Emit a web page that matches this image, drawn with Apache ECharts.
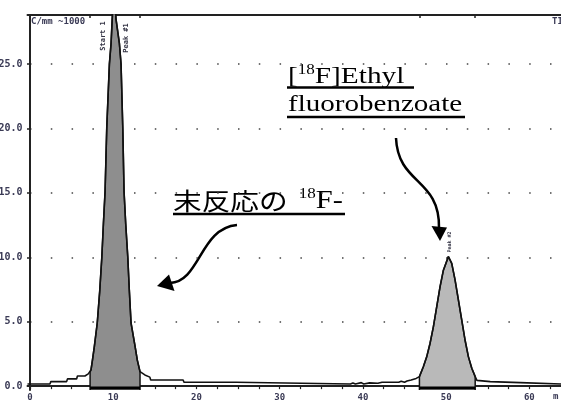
<!DOCTYPE html>
<html><head><meta charset="utf-8">
<script src="https://cdn.jsdelivr.net/npm/echarts@6/dist/echarts.min.js"></script>
<style>html,body{margin:0;padding:0;background:#fff}#c{width:561px;height:401px}</style>
</head><body><div id="c"></div>
<script>
// chromatogram trace (minutes, signal x1000)
const timeMin = [-0.3,2.4,2.5,4.4,4.5,5.6,5.7,6.6,7.0,7.22,
  7.33,7.5,7.73,8.08,8.38,8.63,8.82,9.02,9.22,9.54,9.74,9.88,10.08,10.33,10.74,10.94,11.15,11.3,11.5,11.75,11.93,12.14,12.63,12.9,13.22,
  13.8,14.4,14.5,18.4,18.5,24.75,24.85,38.5,38.8,39.1,39.8,40.1,40.8,41.8,42.3,44.3,44.6,45.0,45.3,45.8,46.4,
  46.79,47.26,47.67,48.07,48.47,48.87,49.27,49.67,50.27,50.67,51.07,51.47,51.87,52.27,52.67,53.08,53.49,
  53.7,53.8,55.3,55.4,58.9,59.0,63.8];
const signal = [0.17,0.17,0.35,0.35,0.56,0.56,0.79,0.79,0.95,1.10,
  1.26,2.0,3.07,4.9,7.4,10.0,12.6,15.1,20.0,25.0,26.6,28.5,31.0,28.5,26.6,25.0,20.0,15.1,12.6,10.0,7.5,4.9,3.07,2.0,1.12,
  0.87,0.7,0.48,0.48,0.3,0.3,0.17,0.17,0.25,0.17,0.27,0.17,0.25,0.22,0.3,0.3,0.38,0.3,0.4,0.48,0.6,
  0.74,1.51,2.29,3.33,4.62,6.17,7.72,9.0,10.05,9.53,8.24,6.69,5.14,3.58,2.29,1.39,0.74,
  0.45,0.35,0.35,0.27,0.27,0.17,0.17];
const peak1Range = [7.22, 13.22];
const peak2Range = [46.79, 53.49];
const yTickValues = [0, 5, 10, 15, 20, 25];
const xLabelValues = [0, 10, 20, 30, 40, 50, 60];
const xMinorTicks = [0,2.5,5,7.5,10,12.5,15,17.5,20,22.5,25,27.5,30,32.5,35,37.5,40,42.5,45,47.5,50,52.5,55,57.5,60,62.5];

const trace = timeMin.map((t, i) => [t, signal[i]]);
function peakArea(r) {
  const pts = trace.filter(p => p[0] >= r[0] - 1e-9 && p[0] <= r[1] + 1e-9);
  return [[r[0], -0.3]].concat(pts, [[r[1], -0.3]]);
}
const lblColor = '#3a3a55';
const monoLbl = {fontFamily: 'DejaVu Sans Mono', fontWeight: 'bold', fontSize: 9, color: lblColor};

const chart = echarts.init(document.getElementById('c'), null, {renderer: 'canvas'});
chart.setOption({
  backgroundColor: '#fff',
  animation: false,
  grid: {left: 27.5, right: 0, top: 15, bottom: 11, containLabel: false, outerBoundsMode: 'none'},
  xAxis: [{
    type: 'value', min: -0.3, max: 63.8, position: 'bottom',
    axisLine: {show: true, lineStyle: {color: '#222', width: 2}},
    axisTick: {show: true, customValues: xMinorTicks, length: 3, lineStyle: {color: '#222', width: 1.2}},
    axisLabel: Object.assign({customValues: xLabelValues, margin: 3, formatter: v => String(Math.round(v))}, monoLbl),
    splitLine: {show: false}
  }, {
    type: 'value', min: -0.3, max: 63.8, position: 'top',
    axisLine: {show: true, lineStyle: {color: '#222', width: 2}},
    axisTick: {show: true, inside: true, customValues: [peak1Range[0], peak1Range[1], peak2Range[0], peak2Range[1]], length: 3, lineStyle: {color: '#222', width: 1.5}},
    axisLabel: {show: false},
    splitLine: {show: false}
  }],
  yAxis: {
    type: 'value', min: -0.3, max: 28.8,
    axisLine: {show: true, lineStyle: {color: '#222', width: 2}},
    axisTick: {show: true, customValues: yTickValues, length: 3, lineStyle: {color: '#222', width: 1.5}},
    axisLabel: Object.assign({customValues: yTickValues, margin: 5, formatter: v => v.toFixed(1)}, monoLbl, {fontSize: 10}),
    splitLine: {show: true, lineStyle: {color: '#444', width: 1.5, type: [1.5, 19.3], dashOffset: 18.3}}
  },
  series: [
    {type: 'line', xAxisIndex: 0, data: peakArea(peak1Range), symbol: 'none', lineStyle: {color: '#111', width: 1.5},
     areaStyle: {color: '#8e8e8e', opacity: 1, origin: 'start'}, z: 2},
    {type: 'line', xAxisIndex: 0, data: peakArea(peak2Range), symbol: 'none', lineStyle: {color: '#111', width: 1.5},
     areaStyle: {color: '#b9b9b9', opacity: 1, origin: 'start'}, z: 2},
    {type: 'line', xAxisIndex: 0, data: trace, symbol: 'none', lineStyle: {color: '#111', width: 1.6}, z: 3},
    {type: 'line', xAxisIndex: 0, data: [[peak1Range[0], -0.15], [peak1Range[1], -0.15]], symbol: 'none', lineStyle: {color: '#000', width: 3}, z: 4},
    {type: 'line', xAxisIndex: 0, data: [[peak2Range[0], -0.15], [peak2Range[1], -0.15]], symbol: 'none', lineStyle: {color: '#000', width: 3}, z: 4}
  ],
  graphic: [
    {type: 'text', x: 31, y: 22, style: {text: 'C/mm ~1000', fill: lblColor, font: 'bold 9px "DejaVu Sans Mono"', verticalAlign: 'middle'}},
    {type: 'text', x: 552, y: 22, style: {text: 'TI', fill: lblColor, font: 'bold 9px "DejaVu Sans Mono"', verticalAlign: 'middle'}},
    {type: 'text', x: 553, y: 397, style: {text: 'm', fill: lblColor, font: 'bold 9px "DejaVu Sans Mono"', verticalAlign: 'middle'}},
    {type: 'text', x: 103, y: 36, rotation: Math.PI / 2, style: {text: 'Start 1', fill: '#334', font: 'bold 7px "DejaVu Sans Mono"', align: 'center', verticalAlign: 'middle'}},
    {type: 'text', x: 126, y: 38, rotation: Math.PI / 2, style: {text: 'Peak #1', fill: '#334', font: 'bold 7px "DejaVu Sans Mono"', align: 'center', verticalAlign: 'middle'}},
    {type: 'text', x: 450, y: 242, rotation: Math.PI / 2, style: {text: 'Peak #2', fill: '#334', font: 'bold 5px "DejaVu Sans Mono"', align: 'center', verticalAlign: 'middle'}},
    // annotation 1
    {type: 'text', x: 173, y: 201, scaleX: 1.22, style: {
      text: '{j|末反応の}{s|18}{f|F-}', verticalAlign: 'middle',
      rich: {
        j: {fontFamily: 'Noto Sans CJK JP', fontSize: 23.5, fill: '#000', lineHeight: 28},
        s: {fontFamily: 'Liberation Serif', fontSize: 14, fill: '#000', lineHeight: 28, verticalAlign: 'top', padding: [0, 0, 0, 9]},
        f: {fontFamily: 'Liberation Serif', fontSize: 25, fill: '#000', lineHeight: 28}
      }}},
    {type: 'line', shape: {x1: 173, y1: 214, x2: 345, y2: 214}, style: {stroke: '#000', lineWidth: 2.5}},
    // annotation 2
    {type: 'text', x: 288, y: 77, scaleX: 1.22, style: {
      text: '{b|[}{s|18}{b|F]Ethyl}', verticalAlign: 'middle',
      rich: {
        b: {fontFamily: 'Liberation Serif', fontSize: 24, fill: '#000', lineHeight: 28},
        s: {fontFamily: 'Liberation Serif', fontSize: 14, fill: '#000', lineHeight: 28, verticalAlign: 'top'}
      }}},
    {type: 'text', x: 288, y: 105, scaleX: 1.21, style: {text: 'fluorobenzoate', font: '24px "Liberation Serif"', fill: '#000', verticalAlign: 'middle'}},
    {type: 'line', shape: {x1: 287, y1: 87.5, x2: 414, y2: 87.5}, style: {stroke: '#000', lineWidth: 2.5}},
    {type: 'line', shape: {x1: 287, y1: 117, x2: 465, y2: 117}, style: {stroke: '#000', lineWidth: 2.5}},
    // arrows
    {type: 'bezierCurve', shape: {x1: 237, y1: 225, cpx1: 200, cpy1: 228, cpx2: 200, cpy2: 282, x2: 170, y2: 283}, style: {stroke: '#000', lineWidth: 2.5, fill: null}},
    {type: 'polygon', shape: {points: [[157, 286], [169, 274.5], [174.5, 291]]}, style: {fill: '#000'}},
    {type: 'bezierCurve', shape: {x1: 396, y1: 138, cpx1: 398, cpy1: 185, cpx2: 440, cpy2: 178, x2: 439, y2: 228}, style: {stroke: '#000', lineWidth: 2.5, fill: null}},
    {type: 'polygon', shape: {points: [[440, 241], [431.5, 226], [447, 227.5]]}, style: {fill: '#000'}}
  ]
});
</script></body></html>
